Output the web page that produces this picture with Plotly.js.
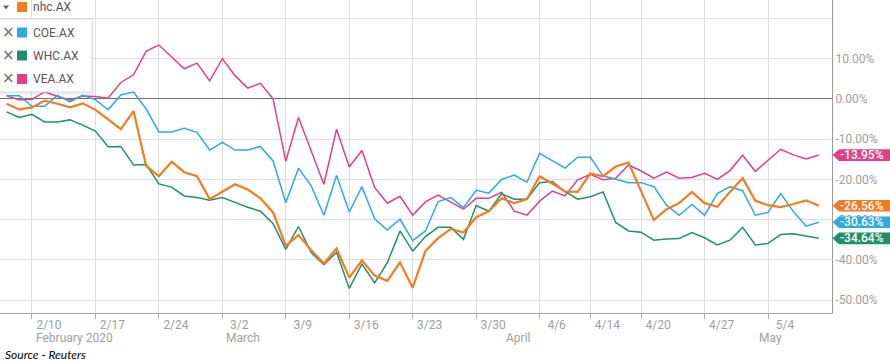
<!DOCTYPE html>
<html>
<head>
<meta charset="utf-8">
<script src="https://cdn.plot.ly/plotly-3.0.1.min.js"></script>
<style>
  html, body { margin: 0; padding: 0; background: #fff; }
  #chart { width: 890px; height: 362px; }
</style>
</head>
<body>
<div id="chart"></div>
<script>
// Trading days (category axis)
const dates = [
  '2/6','2/7','2/10','2/11','2/12','2/13','2/14','2/17','2/18','2/19','2/20','2/21','2/24','2/25','2/26','2/27','2/28',
  '3/2','3/3','3/4','3/5','3/6','3/9','3/10','3/11','3/12','3/13','3/16','3/17','3/18','3/19','3/20','3/23','3/24','3/25','3/26','3/27','3/30','3/31',
  '4/1','4/2','4/3','4/6','4/7','4/8','4/9','4/14','4/15','4/16','4/17','4/20','4/21','4/22','4/23','4/24','4/27','4/28','4/29','4/30',
  '5/1','5/4','5/5','5/6','5/7','5/8'
];

// % change series
const nhc = [
  -1.2,-2.6,-2.1,-0.4,-1.2,-2.1,-1.1,-2.7,-5.1,-7.5,-3.0,-16.7,-19.2,-15.6,-18.2,-19.2,-24.9,
  -23.1,-21.2,-22.5,-24.7,-28.2,-36.5,-33.8,-37.6,-40.9,-37.2,-44.4,-40.1,-43.9,-45.2,-40.6,-46.9,-37.8,-34.6,-32.3,-33.2,-29.4,-27.9,
  -24.7,-25.9,-24.9,-19.2,-21.0,-23.0,-23.1,-18.5,-19.2,-16.8,-15.8,-22.8,-30.1,-27.4,-25.9,-23.1,-25.9,-26.8,-23.1,-19.7,
  -25.3,-26.4,-26.9,-26.1,-25.2,-26.56
];
const coe = [
  0.8,0.8,-1.8,-1.8,0.9,-0.7,0.9,-0.2,-2.7,1.0,1.7,-2.5,-8.2,-8.2,-7.3,-8.3,-12.7,
  -10.8,-12.7,-12.7,-11.8,-15.4,-25.8,-17.2,-21.6,-28.9,-19.0,-28.1,-21.8,-29.8,-32.6,-29.9,-35.2,-32.8,-25.5,-24.5,-27.0,-22.7,-23.4,
  -20.0,-18.9,-20.7,-13.5,-15.4,-17.2,-14.5,-14.5,-19.1,-20.0,-20.8,-20.8,-21.8,-26.4,-28.9,-26.2,-28.9,-23.5,-21.8,-22.8,
  -28.9,-28.2,-23.5,-28.0,-31.6,-30.63
];
const whc = [
  -3.2,-4.6,-3.8,-5.7,-5.7,-5.2,-6.5,-8.0,-11.9,-11.8,-16.4,-16.3,-21.1,-21.9,-24.1,-24.5,-25.2,
  -24.5,-25.7,-26.9,-27.9,-31.0,-37.4,-31.7,-38.2,-41.2,-38.1,-47.1,-41.0,-45.7,-40.7,-32.8,-37.8,-34.2,-31.9,-31.9,-34.9,-26.5,-27.9,
  -23.6,-24.9,-24.9,-20.8,-20.5,-23.0,-24.9,-24.3,-23.1,-30.7,-32.8,-33.1,-35.1,-34.8,-34.7,-33.2,-34.5,-36.3,-35.1,-31.9,
  -36.3,-35.9,-33.7,-33.5,-34.1,-34.64
];
const vea = [
  0.8,-0.25,-0.1,1.8,0.6,-0.25,0.75,0.6,0.2,4.1,6.0,11.9,13.4,10.4,7.5,8.9,4.5,
  10.0,5.8,2.7,3.9,0.0,-15.5,-4.6,-13.1,-21.2,-7.5,-16.9,-12.8,-22.0,-25.9,-24.2,-28.9,-25.6,-23.9,-25.6,-27.4,-24.7,-24.7,
  -23.2,-27.9,-28.9,-25.4,-22.9,-24.1,-20.1,-18.7,-20.1,-19.7,-16.4,-17.9,-19.7,-18.2,-19.7,-19.5,-18.5,-20.0,-17.8,-14.0,
  -18.0,-15.3,-12.5,-13.9,-14.9,-13.95
];

const seriesNames = ['nhc.AX','COE.AX','WHC.AX','VEA.AX'];
const seriesColors = ['#F47B20','#2EA9E1','#21906A','#E23F8B'];
const seriesData = [nhc, coe, whc, vea];
const seriesWidths = [2.2, 1.5, 1.5, 1.5];

const xTickVals = ['2/10','2/17','2/24','3/2','3/9','3/16','3/23','3/30','4/6','4/14','4/20','4/27','5/4'];
const monthLabels = ['February 2020','March','April','May'];
const monthAt = ['2/10','3/2','4/1','5/1'];
const yTickVals = [-50,-40,-30,-20,-10,0,10,20];
const yTickText = ['-50.00%','-40.00%','-30.00%','-20.00%','-10.00%','0.00%','10.00%',''];

const FONT = 'Roboto, "Open Sans", Arial, sans-serif';

// draw order: put nhc last so orange sits on top
const order = [3,1,2,0];
const traces = order.map(k => ({
  type: 'scatter', mode: 'lines', x: dates, y: seriesData[k], name: seriesNames[k],
  line: {color: seriesColors[k], width: seriesWidths[k]}, hoverinfo: 'skip', showlegend: false
}));

const shapes = [];
const annotations = [];

// legend box (top-left)
shapes.push({type:'rect', xref:'paper', yref:'paper', xsizemode:'pixel', ysizemode:'pixel',
  xanchor:0, yanchor:1, x0:-1, x1:94, y0:-21, y1:-95, fillcolor:'rgba(0,0,0,0.06)', line:{width:0}, layer:'above'});
shapes.push({type:'rect', xref:'paper', yref:'paper', xsizemode:'pixel', ysizemode:'pixel',
  xanchor:0, yanchor:1, x0:-1, x1:92, y0:-19, y1:-92, fillcolor:'#ffffff', line:{color:'#d6d6d6', width:1}, layer:'above'});
// header square + triangle
shapes.push({type:'rect', xref:'paper', yref:'paper', xsizemode:'pixel', ysizemode:'pixel',
  xanchor:0, yanchor:1, x0:17, x1:27, y0:-2, y1:-12, fillcolor:seriesColors[0], line:{width:0}, layer:'above'});
shapes.push({type:'path', xref:'paper', yref:'paper', xsizemode:'pixel', ysizemode:'pixel',
  xanchor:0, yanchor:1, path:'M 3,-5.5 L 9,-5.5 L 6,-9.5 Z', fillcolor:'#666', line:{width:0}, layer:'above'});
annotations.push({xref:'paper', yref:'paper', x:0, y:1, xanchor:'left', yanchor:'middle', xshift:31, yshift:-7,
  text: seriesNames[0], showarrow:false, font:{family:FONT, size:12, color:'#555'}});
const legendRowsY = [-32.5, -55.5, -79];
for (let k = 1; k < 4; k++) {
  const yy = legendRowsY[k-1];
  shapes.push({type:'rect', xref:'paper', yref:'paper', xsizemode:'pixel', ysizemode:'pixel',
    xanchor:0, yanchor:1, x0:17, x1:27, y0:yy+5, y1:yy-5, fillcolor:seriesColors[k], line:{width:0}, layer:'above'});
  annotations.push({xref:'paper', yref:'paper', x:0, y:1, xanchor:'left', yanchor:'middle', xshift:31, yshift:yy,
    text: seriesNames[k], showarrow:false, font:{family:FONT, size:12, color:'#555'}});
  annotations.push({xref:'paper', yref:'paper', x:0, y:1, xanchor:'left', yanchor:'middle', xshift:0, yshift:yy+1,
    text: '\u00d7', showarrow:false, font:{family:'"DejaVu Sans", sans-serif', size:15, color:'#6a6a6a'}});
}

// month labels under tick labels
monthLabels.forEach((m, i) => {
  annotations.push({xref:'x', yref:'paper', x: monthAt[i], y:0, xanchor:'left', yanchor:'middle',
    xshift:2, yshift:-25, text:m, showarrow:false, font:{family:FONT, size:12, color:'#9e9e9e'}});
});

// end-value tags on the right
seriesData.forEach((arr, k) => {
  const last = arr[arr.length-1];
  shapes.push({type:'path', xref:'paper', yref:'y', xsizemode:'pixel', ysizemode:'pixel',
    xanchor:1, yanchor:last, path:'M 0.5,0 L 7,5.8 L 70,5.8 L 70,-5.8 L 7,-5.8 Z',
    fillcolor:seriesColors[k], line:{width:0}, layer:'above'});
  annotations.push({xref:'paper', yref:'y', x:1, y:last, xanchor:'left', yanchor:'middle', xshift:6,
    text: last.toFixed(2) + '%', showarrow:false, font:{family:FONT, size:12, color:'#ffffff', weight:500}});
});

// source note
annotations.push({xref:'paper', yref:'paper', x:0, y:0, xanchor:'left', yanchor:'middle', xshift:3, yshift:-41,
  text:'Source - Reuters', showarrow:false, font:{family:'Lato, "Liberation Sans", sans-serif', size:12, color:'#000', style:'italic'}});

const layout = {
  width: 890, height: 362,
  margin: {l:0, r:58, t:0, b:49, pad:0},
  paper_bgcolor:'#fff', plot_bgcolor:'#fff',
  showlegend:false,
  xaxis: {
    type:'category', range:[-0.52, 65.04],
    tickmode:'array', tickvals:xTickVals, ticktext:xTickVals,
    ticks:'outside', ticklen:5, tickcolor:'#aaa', tickwidth:1,
    showgrid:true, gridcolor:'#dddddd', gridwidth:1,
    showline:true, linecolor:'#aaa', linewidth:1,
    zeroline:false, ticklabelshift:17, ticklabelstandoff:-4,
    tickfont:{family:FONT, size:12, color:'#9e9e9e'}, fixedrange:true
  },
  yaxis: {
    side:'right', range:[-53.2, 24.6],
    tickmode:'array', tickvals:yTickVals, ticktext:yTickText,
    showgrid:true, gridcolor:'#dddddd', gridwidth:1,
    showline:true, linecolor:'#999', linewidth:1,
    zeroline:true, zerolinecolor:'#6f6f6f', zerolinewidth:1,
    ticks:'', tickfont:{family:FONT, size:12, color:'#9e9e9e'}, fixedrange:true
  },
  shapes: shapes,
  annotations: annotations,
  hovermode:false
};

Plotly.newPlot('chart', traces, layout, {displayModeBar:false, staticPlot:true});
</script>
</body>
</html>
